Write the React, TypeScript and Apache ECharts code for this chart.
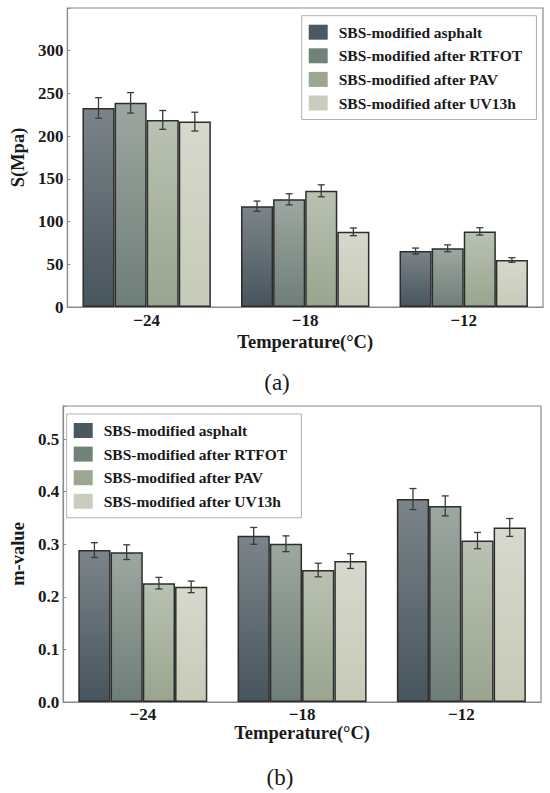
import React, { useEffect, useRef } from "react";
import * as echarts from "echarts";

const categories = ["−24", "−18", "−12"];
const seriesNames = [
  "SBS-modified asphalt",
  "SBS-modified after RTFOT",
  "SBS-modified after PAV",
  "SBS-modified after UV13h",
];

// (a) stiffness S (MPa)
const sAsphalt = [233, 118, 65.5];
const sRTFOT = [239, 126, 68.7];
const sPAV = [219, 136, 88.5];
const sUV = [217, 88, 55];
const sErrAsphalt = [12, 6, 3.5];
const sErrRTFOT = [12, 6.5, 4];
const sErrPAV = [11, 7, 4.3];
const sErrUV = [11, 4.5, 2.7];

// (b) m-value
const mAsphalt = [0.289, 0.316, 0.386];
const mRTFOT = [0.285, 0.301, 0.373];
const mPAV = [0.226, 0.251, 0.307];
const mUV = [0.219, 0.268, 0.332];
const mErrAsphalt = [0.014, 0.016, 0.02];
const mErrRTFOT = [0.014, 0.015, 0.019];
const mErrPAV = [0.011, 0.013, 0.0155];
const mErrUV = [0.011, 0.014, 0.017];

const yTicksA = [0, 50, 100, 150, 200, 250, 300];
const yTicksB = [0.0, 0.1, 0.2, 0.3, 0.4, 0.5];

const gradTop = ["#7b848a", "#9ca7a0", "#b9c2b2", "#d6d9cc"];
const gradBottom = ["#47555e", "#6e7f77", "#99a58e", "#c6cbb8"];
const legendColors = ["#4a5862", "#718278", "#9ba790", "#c9cdbc"];

const FONT = '"Liberation Serif", "Times New Roman", serif';
const CAT_GAP = 0.19;

function App() {
  const ref = useRef<HTMLDivElement>(null);

  useEffect(() => {
    if (!ref.current) return;
    const chart = echarts.init(ref.current, undefined, { renderer: "svg" });

    const sVals = [sAsphalt, sRTFOT, sPAV, sUV];
    const sErrs = [sErrAsphalt, sErrRTFOT, sErrPAV, sErrUV];
    const mVals = [mAsphalt, mRTFOT, mPAV, mUV];
    const mErrs = [mErrAsphalt, mErrRTFOT, mErrPAV, mErrUV];

    const barSeries = (vals: number[][], gi: number) =>
      vals.map((arr, k) => ({
        type: "bar",
        name: seriesNames[k],
        xAxisIndex: gi,
        yAxisIndex: gi,
        data: arr,
        barGap: "0%",
        barCategoryGap: CAT_GAP * 100 + "%",
        itemStyle: {
          color: new echarts.graphic.LinearGradient(0, 0, 0, 1, [
            { offset: 0, color: gradTop[k] },
            { offset: 1, color: gradBottom[k] },
          ]),
          borderColor: "#2d2d2d",
          borderWidth: 1.5,
        },
        z: 2,
      }));

    const errSeries = (vals: number[][], errs: number[][], gi: number) =>
      vals.map((arr, k) => ({
        type: "custom",
        name: "err-" + gi + "-" + k,
        xAxisIndex: gi,
        yAxisIndex: gi,
        z: 5,
        silent: true,
        data: arr.map((v, i) => [i, v, errs[k][i]]),
        encode: { x: 0, y: 1 },
        renderItem: (params: any, api: any) => {
          const ci = api.value(0);
          const v = api.value(1);
          const e = api.value(2);
          const band = api.size([1, 0])[0];
          const groupW = band * (1 - CAT_GAP);
          const barW = groupW / 4;
          const c = api.coord([ci, v]);
          const cx = c[0] - groupW / 2 + (k + 0.5) * barW;
          const yTop = api.coord([ci, v + e])[1];
          const yBot = api.coord([ci, v - e])[1];
          const cap = 3.5;
          const st = { stroke: "#3a3a3a", lineWidth: 1.3 };
          return {
            type: "group",
            children: [
              { type: "line", shape: { x1: cx, y1: yTop, x2: cx, y2: yBot }, style: st },
              { type: "line", shape: { x1: cx - cap, y1: yTop, x2: cx + cap, y2: yTop }, style: st },
              { type: "line", shape: { x1: cx - cap, y1: yBot, x2: cx + cap, y2: yBot }, style: st },
            ],
          };
        },
      }));

    const labelStyle = {
      fontFamily: FONT,
      fontWeight: "bold",
      fontSize: 17,
      color: "#1a1a1a",
    };
    const nameStyle = {
      fontFamily: FONT,
      fontWeight: "bold",
      fontSize: 18.5,
      color: "#1a1a1a",
    };
    const axisLineStyle = { lineStyle: { color: "#8a8a8a", width: 1.2 } };

    const legendCommon = (top: number, left: number) => ({
      orient: "vertical",
      left,
      top,
      padding: [8.5, 14, 8.5, 7],
      itemWidth: 19,
      itemHeight: 15,
      itemGap: 7.6,
      borderColor: "#b0b0b0",
      borderWidth: 1,
      backgroundColor: "#fff",
      selectedMode: false,
      textStyle: {
        fontFamily: FONT,
        fontWeight: "bold",
        fontSize: 15.5,
        lineHeight: 15,
        color: "#1a1a1a",
        padding: [0, 0, 0, 6],
      },
      data: seriesNames.map((n, k) => ({
        name: n,
        icon: "rect",
        itemStyle: { color: legendColors[k], borderWidth: 0 },
      })),
    });

    const option: any = {
      animation: false,
      grid: [
        {
          left: 61,
          top: 8,
          width: 482,
          height: 299,
          show: true,
          borderColor: "#8a8a8a",
          borderWidth: 1.2,
          backgroundColor: "transparent",
        },
        {
          left: 58,
          top: 406,
          width: 483,
          height: 296,
          show: true,
          borderColor: "#8a8a8a",
          borderWidth: 1.2,
          backgroundColor: "transparent",
        },
      ],
      legend: [legendCommon(15.7, 301.7), legendCommon(414, 66.7)],
      xAxis: [
        {
          type: "category",
          gridIndex: 0,
          data: categories,
          axisTick: { show: false },
          axisLine: axisLineStyle,
          axisLabel: { ...labelStyle, margin: 5 },
          name: "Temperature(°C)",
          nameLocation: "middle",
          nameGap: 25,
          nameTextStyle: nameStyle,
        },
        {
          type: "category",
          gridIndex: 1,
          data: categories,
          axisTick: { show: false },
          axisLine: axisLineStyle,
          axisLabel: { ...labelStyle, margin: 4 },
          name: "Temperature(°C)",
          nameLocation: "middle",
          nameGap: 21,
          nameTextStyle: nameStyle,
        },
      ],
      yAxis: [
        {
          type: "value",
          gridIndex: 0,
          min: 0,
          max: 350,
          interval: 50,
          splitLine: { show: false },
          axisLine: { show: true, ...axisLineStyle },
          axisTick: { show: true, inside: true, length: 3, lineStyle: { color: "#8a8a8a" } },
          axisLabel: {
            ...labelStyle,
            margin: 4,
            formatter: (v: number) => (yTicksA.includes(v) ? String(v) : ""),
          },
          name: "S(Mpa)",
          nameLocation: "middle",
          nameGap: 34,
          nameRotate: 90,
          nameTextStyle: nameStyle,
        },
        {
          type: "value",
          gridIndex: 1,
          min: 0,
          max: 0.563,
          interval: 0.1,
          splitLine: { show: false },
          axisLine: { show: true, ...axisLineStyle },
          axisTick: { show: true, inside: true, length: 3, lineStyle: { color: "#8a8a8a" } },
          axisLabel: {
            ...labelStyle,
            margin: 4,
            formatter: (v: number) =>
              yTicksB.some((t) => Math.abs(t - v) < 1e-6) ? v.toFixed(1) : "",
          },
          name: "m-value",
          nameLocation: "middle",
          nameGap: 33,
          nameRotate: 90,
          nameTextStyle: nameStyle,
        },
      ],
      graphic: [
        {
          type: "text",
          x: 277,
          y: 382,
          style: {
            text: "(a)",
            fontFamily: FONT,
            fontSize: 23,
            fill: "#1a1a1a",
            textAlign: "center",
            textVerticalAlign: "middle",
          },
        },
        {
          type: "text",
          x: 280,
          y: 777,
          style: {
            text: "(b)",
            fontFamily: FONT,
            fontSize: 23,
            fill: "#1a1a1a",
            textAlign: "center",
            textVerticalAlign: "middle",
          },
        },
      ],
      series: [
        ...barSeries(sVals, 0),
        ...errSeries(sVals, sErrs, 0),
        ...barSeries(mVals, 1),
        ...errSeries(mVals, mErrs, 1),
      ],
    };

    chart.setOption(option);
    return () => chart.dispose();
  }, []);

  return (
    <div
      ref={ref}
      style={{ position: "absolute", left: 0, top: 0, width: 550, height: 793, background: "#fff" }}
    />
  );
}

export default App;
